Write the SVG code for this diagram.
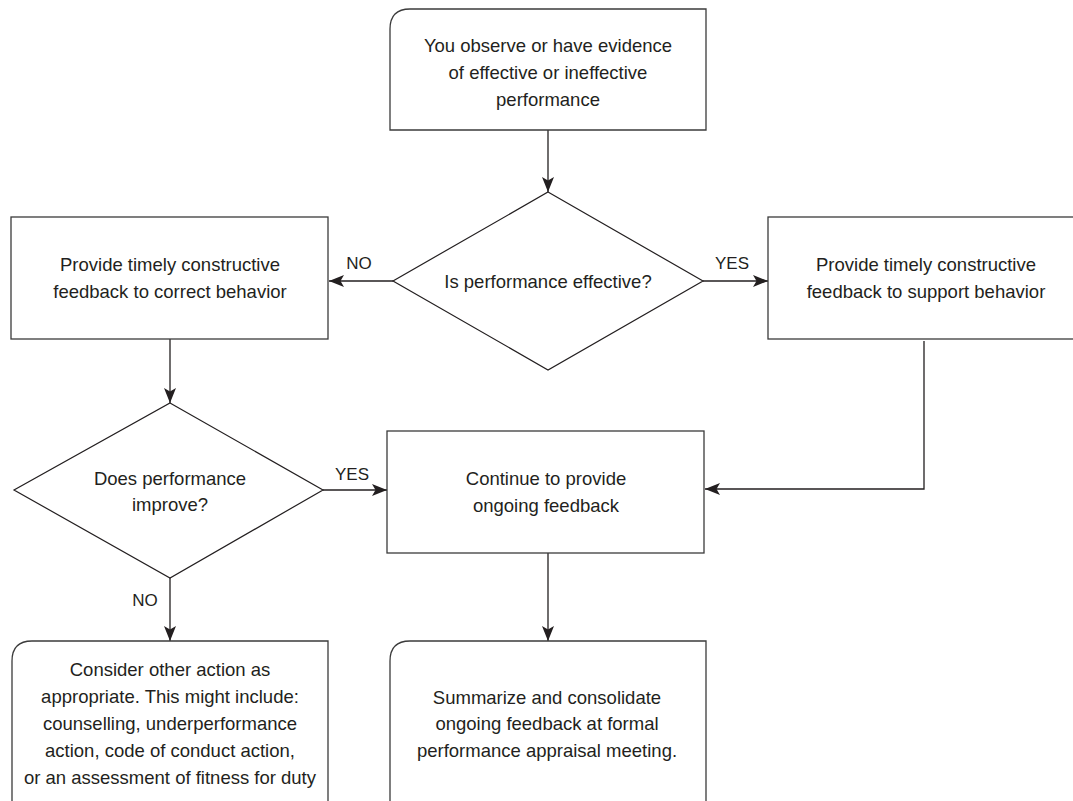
<svg xmlns="http://www.w3.org/2000/svg" width="1073" height="801" viewBox="0 0 1073 801">
<style>
.box{fill:#fff;stroke:#3b3b3b;stroke-width:1.3}
.dia{fill:#fff;stroke:#231f20;stroke-width:1.2}
.t{font-family:"Liberation Sans",Arial,sans-serif;font-size:18.5px;fill:#231f20;text-anchor:middle;dominant-baseline:central}
.lbl{font-family:"Liberation Sans",Arial,sans-serif;font-size:17px;fill:#231f20;text-anchor:middle;dominant-baseline:central}
.c{fill:none;stroke:#231f20;stroke-width:1.3}
</style>
<defs>
<marker id="ah" markerUnits="userSpaceOnUse" markerWidth="16" markerHeight="12" refX="15" refY="6" orient="auto">
<path d="M0,0 L15,6 L0,12 L3.5,6 Z" fill="#231f20"/>
</marker>
</defs>
<rect width="1073" height="801" fill="#fff"/>
<g id="connectors">
<line class="c" x1="548" y1="130" x2="548" y2="192" marker-end="url(#ah)"/>
<line class="c" x1="393" y1="281" x2="329" y2="281" marker-end="url(#ah)"/>
<line class="c" x1="703" y1="281" x2="768" y2="281" marker-end="url(#ah)"/>
<line class="c" x1="170" y1="339" x2="170" y2="403" marker-end="url(#ah)"/>
<polyline class="c" points="924,341 924,489 705,489" marker-end="url(#ah)"/>
<line class="c" x1="323" y1="490" x2="387" y2="490" marker-end="url(#ah)"/>
<line class="c" x1="170" y1="578" x2="170" y2="641" marker-end="url(#ah)"/>
<line class="c" x1="548" y1="553" x2="548" y2="641" marker-end="url(#ah)"/>
<text class="lbl" x="359" y="263">NO</text>
<text class="lbl" x="732" y="263">YES</text>
<text class="lbl" x="352" y="474">YES</text>
<text class="lbl" x="145" y="600">NO</text>
</g>
<g id="start">
<path class="box" d="M390,130 L390,29 Q390,9 410,9 L706,9 L706,130 Z"/>
<text class="t" x="548" y="45">You observe or have evidence</text>
<text class="t" x="548" y="72">of effective or ineffective</text>
<text class="t" x="548" y="99">performance</text>
</g>
<g id="decision1">
<polygon class="dia" points="548,192 703,281 548,370 393,281"/>
<text class="t" x="548" y="281">Is performance effective?</text>
</g>
<g id="correct">
<rect class="box" x="11" y="217" width="317" height="122"/>
<text class="t" x="170" y="264">Provide timely constructive</text>
<text class="t" x="170" y="291">feedback to correct behavior</text>
</g>
<g id="support">
<rect class="box" x="768" y="217" width="320" height="122"/>
<text class="t" x="926" y="264">Provide timely constructive</text>
<text class="t" x="926" y="291">feedback to support behavior</text>
</g>
<g id="decision2">
<polygon class="dia" points="170,403 323,490 170,578 14,490"/>
<text class="t" x="170" y="478">Does performance</text>
<text class="t" x="170" y="504">improve?</text>
</g>
<g id="continue">
<rect class="box" x="387" y="431" width="317" height="122"/>
<text class="t" x="546" y="478">Continue to provide</text>
<text class="t" x="546" y="505">ongoing feedback</text>
</g>
<g id="other">
<path class="box" d="M12,810 L12,661 Q12,641 32,641 L328,641 L328,810"/>
<text class="t" x="170" y="669">Consider other action as</text>
<text class="t" x="170" y="696">appropriate. This might include:</text>
<text class="t" x="170" y="723">counselling, underperformance</text>
<text class="t" x="170" y="750">action, code of conduct action,</text>
<text class="t" x="170" y="777">or an assessment of fitness for duty</text>
</g>
<g id="summarize">
<path class="box" d="M390,810 L390,661 Q390,641 410,641 L706,641 L706,810"/>
<text class="t" x="547" y="697">Summarize and consolidate</text>
<text class="t" x="547" y="723">ongoing feedback at formal</text>
<text class="t" x="547" y="750">performance appraisal meeting.</text>
</g>
</svg>
